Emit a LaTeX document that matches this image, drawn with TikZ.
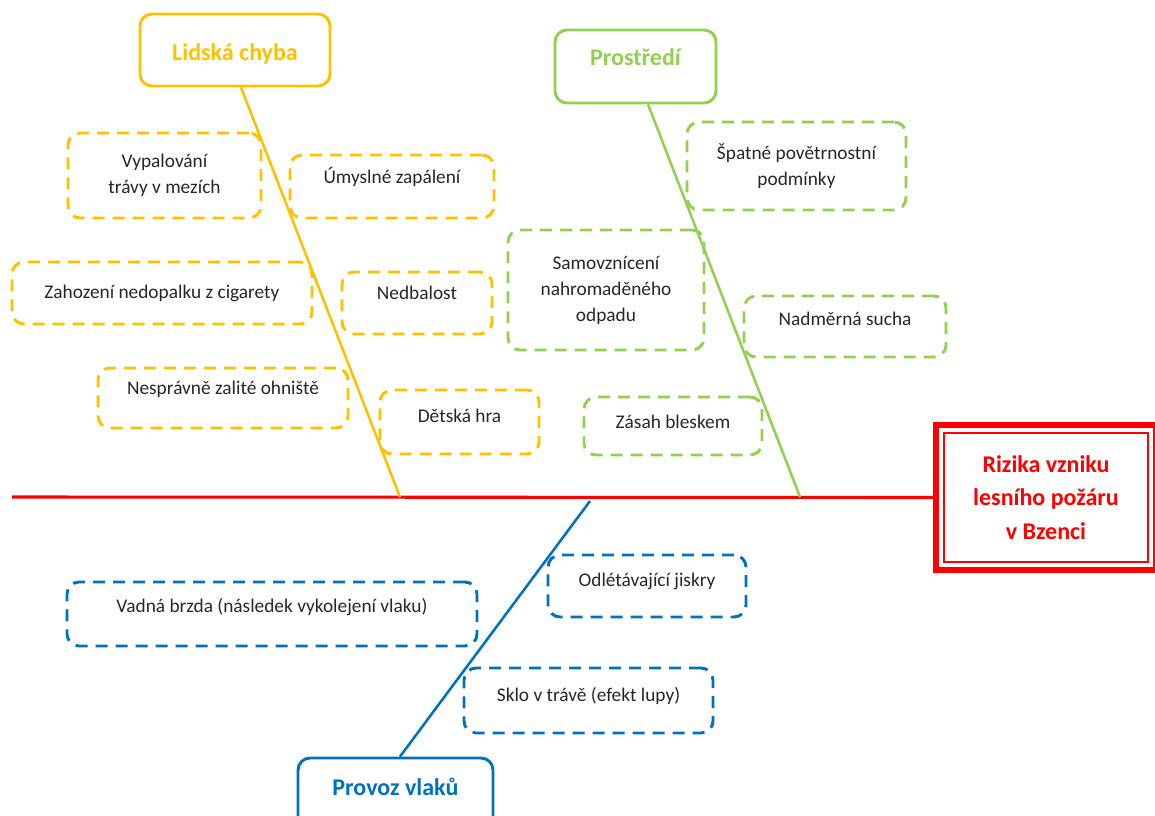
\documentclass[tikz,border=0pt]{standalone}
\usepackage{fontspec}
\setmainfont{Carlito}
\usetikzlibrary{calc}

\definecolor{chybaOrange}{RGB}{255,192,0}
\definecolor{prostrediGreen}{RGB}{146,208,80}
\definecolor{vlakBlue}{RGB}{0,112,192}
\definecolor{rizikoRed}{RGB}{255,0,0}

\tikzset{
  catbox/.style={draw, rounded corners=9pt, line width=2.2pt, inner sep=0pt, align=center,
    font=\fontsize{18}{25}\selectfont\bfseries},
  causebox/.style={draw, dash pattern=on 9pt off 6pt, rounded corners=9pt, line width=2.2pt,
    inner sep=0pt, align=center, text=black!85, font=\fontsize{14.5}{19.5}\selectfont},
  lift/.style={text height=9pt, text depth=#1},
  bone/.style={line width=1.9pt},
}

\begin{document}
\begin{tikzpicture}[x=0.75pt,y=0.75pt,yscale=-1,xscale=1]
\useasboundingbox (0,0) rectangle (1155,816);

%Head
\node[draw=rizikoRed, line width=4.5pt, minimum width=165pt, minimum height=108.75pt, align=center,
  text=rizikoRed, font=\fontsize{18}{25}\selectfont\bfseries] (riziko) at (1046,497.5)
  {Rizika vzniku\\lesního požáru\\v Bzenci};
\draw[rizikoRed, line width=0.8pt] ($(riziko.north west)+(11,11)$) rectangle ($(riziko.south east)+(-11,-11)$);

%Category boxes
\node[catbox, draw=chybaOrange, text=chybaOrange, minimum width=142.5pt, minimum height=54pt,
  text height=19pt, text depth=3.8pt] (chyba) at (235,50) {Lidská chyba};
\node[catbox, draw=prostrediGreen, text=prostrediGreen, minimum width=120.75pt, minimum height=54.75pt,
  text height=12.5pt, text depth=13.6pt] (prostredi) at (635.5,66.5) {Prostředí};
\node[catbox, draw=vlakBlue, text=vlakBlue, minimum width=146.25pt, minimum height=54pt,
  text height=12.5pt, text depth=9.8pt] (provoz) at (395.5,794) {Provoz vlaků};

%Spine and bones
\coordinate (spineL) at (12,497);
\coordinate (chybaEnd) at (400,497);
\coordinate (prostrediEnd) at (800,497);
\coordinate (provozEnd) at (590,501);
\draw[rizikoRed, line width=2.3pt] (spineL) -- (riziko.west);
\draw[bone, chybaOrange] ([xshift=4.5pt]chyba.south) -- (chybaEnd);
\draw[bone, prostrediGreen] ([xshift=9.4pt]prostredi.south) -- (prostrediEnd);
\draw[bone, vlakBlue] ([xshift=3.4pt]provoz.north) -- (provozEnd);

%Causes: Lidska chyba
\node[causebox, draw=chybaOrange, minimum width=144.75pt, minimum height=63.75pt] (vypalovani) at (164.5,175.5) {Vypalování\\trávy v mezích};
\node[causebox, draw=chybaOrange, minimum width=153pt, minimum height=47.25pt, lift=12.8pt] (umyslne) at (392,186.5) {Úmyslné zapálení};
\node[causebox, draw=chybaOrange, minimum width=225pt, minimum height=46.5pt] (zahozeni) at (162,293) {Zahození nedopalku z cigarety};
\node[causebox, draw=chybaOrange, minimum width=112.5pt, minimum height=46.5pt, lift=13.5pt] (nedbalost) at (417,303) {Nedbalost};
\node[causebox, draw=chybaOrange, minimum width=187.5pt, minimum height=45pt, lift=15pt] (ohniste) at (223,398) {Nesprávně zalité ohniště};
\node[causebox, draw=chybaOrange, minimum width=119.25pt, minimum height=48pt, lift=9pt] (detska) at (459.5,422) {Dětská hra};

%Causes: Prostredi
\node[causebox, draw=prostrediGreen, minimum width=164.25pt, minimum height=66pt] (pocasi) at (796.5,166) {Špatné povětrnostní\\podmínky};
\node[causebox, draw=prostrediGreen, minimum width=147pt, minimum height=90pt] (samovzniceni) at (606,290) {Samovznícení\\nahromaděného\\odpadu};
\node[causebox, draw=prostrediGreen, minimum width=151.5pt, minimum height=45.75pt, lift=11.2pt] (sucha) at (845,326.5) {Nadměrná sucha};
\node[causebox, draw=prostrediGreen, minimum width=133.5pt, minimum height=43.5pt, lift=6pt] (blesk) at (673,426) {Zásah bleskem};

%Causes: Provoz vlaku
\node[causebox, draw=vlakBlue, minimum width=307.5pt, minimum height=48pt, lift=12pt] (brzda) at (272,614) {Vadná brzda (následek vykolejení vlaku)};
\node[causebox, draw=vlakBlue, minimum width=148.5pt, minimum height=46.5pt, lift=9pt] (jiskry) at (647,586) {Odlétávající jiskry};
\node[causebox, draw=vlakBlue, minimum width=186.75pt, minimum height=48.75pt, lift=8.2pt] (sklo) at (588.5,700.5) {Sklo v trávě (efekt lupy)};

\end{tikzpicture}
\end{document}
